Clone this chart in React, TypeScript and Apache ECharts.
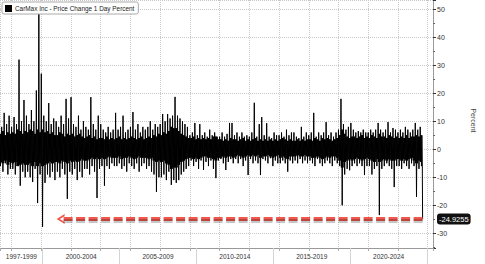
import React, { useEffect, useRef } from "react";
import * as echarts from "echarts";

const SERIES_NAME = "CarMax Inc - Price Change 1 Day Percent";
const START_YEAR = 1997 + 2 / 12; // first bimonthly period (Mar-Apr 1997)
const PERIOD = 1 / 6; // two months

// Bimonthly highest daily % change (spikes)
const PERIOD_HIGHS = [
  11, 8, 13, 9, 12, // 1997 (Mar-Dec)
  8, 11.5, 9, 32, 10, 17.6, // 1998
  12, 9, 14, 10, 21, 50, // 1999
  27, 12, 10, 16.5, 9, 11, // 2000
  10, 8, 12, 9, 18, 11, // 2001
  18.6, 9, 8, 12, 7, 10, // 2002
  8, 7, 18.6, 9, 7, 12, // 2003
  9, 7, 6, 8, 6, 7, // 2004
  13, 7, 8, 12, 6, 7, // 2005
  8, 13.3, 7, 9, 6, 8, // 2006
  7, 8, 10, 7, 9, 8, // 2007
  9, 12.6, 10, 12.6, 11, 12, // 2008
  18.7, 12, 11, 10, 9, 8, // 2009
  5, 6, 9.4, 5, 9, 5, // 2010
  6, 4.5, 7, 5, 6, 4.5, // 2011
  4.5, 6, 4.5, 5.5, 9.4, 9.4, // 2012
  5, 6, 4.5, 6, 4.5, 5, // 2013
  4.5, 6, 16.6, 4.5, 9, 11.5, // 2014
  5, 9.3, 4.5, 4, 6, 5, // 2015
  5, 6, 4.5, 7, 5, 6, // 2016
  6, 4.5, 4, 8, 4.5, 6, // 2017
  5, 6, 13, 4.5, 6, 5, // 2018
  6, 9.7, 5, 6, 4.5, 6, // 2019
  7, 18, 9, 7, 8, 9.4, // 2020
  7, 6, 6.5, 6, 7, 6, // 2021
  6, 7, 6, 7, 9.4, 7, // 2022
  6, 7, 9.7, 6, 7.6, 7, // 2023
  6, 7, 6, 8, 7, 6, // 2024
  7, 9.4, 7, 8, // 2025 (Jan-Aug)
];

// Bimonthly lowest daily % change (spikes)
const PERIOD_LOWS = [
  -6, -8, -5, -9, -7, // 1997
  -7, -9, -6, -13, -8, -10, // 1998
  -8, -10, -11.7, -7, -19.2, -9, // 1999
  -27.7, -12, -9, -10, -8, -11, // 2000
  -8, -10, -7, -9, -17.7, -8, // 2001
  -9, -7, -11, -8, -10, -7, // 2002
  -7, -9, -6, -8, -17.4, -7, // 2003
  -6, -13, -6, -7, -5, -6, // 2004
  -6, -5, -7, -6, -8, -5, // 2005
  -6, -7, -5, -8, -6, -5, // 2006
  -7, -6, -8, -9, -15.2, -10, // 2007
  -10, -9, -11, -8, -12.7, -11, // 2008
  -12, -11, -9, -8, -7, -6, // 2009
  -4, -6, -4.5, -7, -4, -7.4, // 2010
  -4.5, -6, -4, -7, -10.3, -4, // 2011
  -3.5, -5, -7.4, -4.5, -3.5, -5, // 2012
  -3.5, -5, -3.5, -6, -4, -9.2, // 2013
  -3.5, -5, -4, -5, -9.2, -3.5, // 2014
  -4, -5, -3.2, -6, -4, -5, // 2015
  -5, -4, -5, -8, -4, -5, // 2016
  -4, -5, -3.5, -5, -4, -5, // 2017
  -4, -5, -6, -3.5, -5, -6, // 2018
  -5, -4, -5, -6, -4, -5, // 2019
  -6, -20, -9, -7, -7.5, -6, // 2020
  -5, -6, -5, -6, -9.2, -6, // 2021
  -6, -9, -7, -6, -23.5, -7, // 2022
  -6, -5, -6, -7, -13.5, -6, // 2023
  -6, -7, -5, -6, -7, -5, // 2024
  -6, -17, -7, -6, // 2025
];

// Bimonthly typical (dense) upper daily move
const CORE_UP = [
  5.5, 6.5, 5, 6, 5.5, // 1997
  6, 5.5, 7, 6.5, 5.5, 6.5, // 1998
  6, 7, 6.5, 5.5, 7, 6, // 1999
  7, 6, 6.5, 5.5, 6, 5, // 2000
  5, 6, 5.5, 4.5, 5.5, 5, // 2001
  5.5, 4.5, 5, 5.5, 4.5, 4, // 2002
  4.5, 5, 4, 4.5, 3.5, 4, // 2003
  4, 3.5, 4.5, 3.5, 4, 3.5, // 2004
  4, 4.5, 3.5, 4, 3.5, 4, // 2005
  4.5, 4, 3.5, 4, 4.5, 3.5, // 2006
  4, 4.5, 4, 5, 4.5, 5.5, // 2007
  5, 6, 5.5, 6.5, 8, 7.5, // 2008
  7.5, 6.5, 5.5, 5, 4.5, 4, // 2009
  4, 4.5, 3.5, 4, 3.5, 4, // 2010
  3.5, 4, 3.5, 4.5, 4.5, 3.5, // 2011
  3.5, 3, 3.5, 3, 4, 3.5, // 2012
  3.5, 3, 3.5, 4, 3, 3.5, // 2013
  3, 3.5, 4, 3, 3.5, 3, // 2014
  3.5, 3, 3.5, 3, 3.5, 3, // 2015
  3.5, 4, 3.5, 3, 3.5, 3, // 2016
  3, 3.5, 3, 3.5, 3, 3.5, // 2017
  3.5, 3, 4, 3.5, 3, 4, // 2018
  3.5, 4, 3.5, 3, 3.5, 4, // 2019
  5, 7, 5.5, 4.5, 4, 4.5, // 2020
  4.5, 4, 4.5, 5, 4, 4.5, // 2021
  4, 5, 4.5, 4, 5.5, 4.5, // 2022
  4.5, 4, 5, 4.5, 4, 4.5, // 2023
  4, 4.5, 4, 5, 4, 4.5, // 2024
  4.5, 5, 4.5, 5, // 2025
];

// Bimonthly typical (dense) lower daily move
const CORE_DOWN = [
  -4.5, -5, -4, -5.5, -4.5, // 1997
  -5, -4.5, -6, -5.5, -5, -5.5, // 1998
  -5.5, -5, -6, -4.5, -6, -5, // 1999
  -6, -5.5, -5, -4.5, -5, -4.5, // 2000
  -4.5, -5, -4, -4.5, -5, -4, // 2001
  -4.5, -4, -4.5, -4, -3.5, -4, // 2002
  -4, -3.5, -3, -3.5, -3, -3.5, // 2003
  -3, -3.5, -3, -2.5, -3, -3, // 2004
  -3, -2.5, -3.5, -3, -3, -2.5, // 2005
  -3, -3.5, -3, -2.5, -3, -3, // 2006
  -3, -3.5, -3, -4, -4.5, -4, // 2007
  -4.5, -4, -5, -5.5, -7, -6.5, // 2008
  -6.5, -5.5, -4.5, -4, -3.5, -3, // 2009
  -3, -3.5, -3, -3.5, -3, -2.5, // 2010
  -2.5, -3, -3, -3.5, -4, -3, // 2011
  -3, -2.5, -3, -2.5, -2.5, -3, // 2012
  -2.5, -2, -2.5, -3, -2.5, -2, // 2013
  -2.5, -2, -2.5, -2, -3, -2.5, // 2014
  -2.5, -2, -2.5, -3, -2.5, -2, // 2015
  -3, -2.5, -3, -3.5, -2.5, -2.5, // 2016
  -2.5, -2, -2.5, -2.5, -2, -2.5, // 2017
  -2.5, -3, -3, -2.5, -3, -3.5, // 2018
  -3, -2.5, -3, -2.5, -2.5, -3, // 2019
  -4, -6.5, -4.5, -4, -3.5, -4, // 2020
  -3.5, -3, -3.5, -4, -3.5, -3, // 2021
  -3.5, -4, -4.5, -3.5, -4.5, -4, // 2022
  -3.5, -4, -3.5, -4, -4, -3.5, // 2023
  -3.5, -4, -3.5, -4, -3.5, -3, // 2024
  -4, -5, -4, -4.5, // 2025
];

const LAST_DATE = 2025.66;
const LAST_VALUE = -24.9255;
const ARROW_TIP_DATE = 2001.3;

const X_MIN = 1997.22;
const X_MAX = 2026.36;
const Y_MIN = -35.25;
const Y_MAX = 53.3;

const BAND_LABELS = ["1997-1999", "2000-2004", "2005-2009", "2010-2014", "2015-2019", "2020-2024"];
const BAND_CENTERS = [1998.61, 2002.5, 2007.5, 2012.5, 2017.5, 2022.5];
const BAND_EDGES = [2000, 2005, 2010, 2015, 2020, 2025];

const FONT = "'Liberation Sans', Arial, sans-serif";

export default function App() {
  const ref = useRef<HTMLDivElement>(null);

  useEffect(() => {
    if (!ref.current) return;
    const chart = echarts.init(ref.current, null, { renderer: "svg" });

    const data: number[][] = [];
    PERIOD_HIGHS.forEach((h, i) => {
      const t = START_YEAR + i * PERIOD;
      const cu = CORE_UP[i];
      const cd = CORE_DOWN[i];
      const seq = [h, cd, cu, PERIOD_LOWS[i], cu, cd];
      seq.forEach((v, k) => data.push([t + (PERIOD * k) / seq.length, v]));
    });
    data.push([LAST_DATE, LAST_VALUE]);

    const gridBox = { left: 0, right: 37, top: 0, bottom: 16 };
    const dashed = [9, 3.5];

    chart.setOption({
      animation: false,
      textStyle: { fontFamily: FONT },
      legend: {
        data: [SERIES_NAME],
        left: 2,
        top: 2,
        padding: [3, 4, 2, 3],
        borderColor: "#aaa",
        borderWidth: 1,
        borderRadius: 2,
        backgroundColor: "#fff",
        icon: "rect",
        itemWidth: 7,
        itemHeight: 7,
        itemGap: 2,
        textStyle: { fontSize: 6.4, color: "#222", fontFamily: FONT, padding: [0, 0, 0, -2] },
        z: 10,
      },
      grid: [{ ...gridBox }, { ...gridBox }],
      xAxis: [
        {
          type: "value",
          gridIndex: 0,
          min: X_MIN,
          max: X_MAX,
          minInterval: 2,
          maxInterval: 2,
          axisLine: { show: true, onZero: false, lineStyle: { color: "#999", width: 1 } },
          axisTick: { show: true, length: 3, lineStyle: { color: "#aaa" } },
          axisLabel: { show: false },
          splitLine: { show: true, lineStyle: { color: "#c8c8c8", type: "dotted", width: 1 } },
        },
        {
          type: "value",
          gridIndex: 1,
          min: X_MIN,
          max: X_MAX,
          axisLine: { show: false, onZero: false },
          axisTick: {
            show: true,
            length: 16,
            customValues: BAND_EDGES,
            lineStyle: { color: "#d4d4d4", width: 1 },
          },
          axisLabel: {
            show: true,
            customValues: BAND_CENTERS,
            fontSize: 6.5,
            color: "#333",
            margin: 5,
            fontFamily: FONT,
            formatter: (v: number) => {
              const i = BAND_CENTERS.findIndex((c) => Math.abs(c - v) < 0.01);
              return i >= 0 ? BAND_LABELS[i] : "";
            },
          },
          splitLine: { show: false },
        },
      ],
      yAxis: [
        {
          type: "value",
          gridIndex: 0,
          position: "right",
          min: Y_MIN,
          max: Y_MAX,
          minInterval: 10,
          maxInterval: 10,
          name: "Percent",
          nameLocation: "middle",
          nameRotate: -90,
          nameGap: 37,
          nameTextStyle: { fontSize: 7, color: "#444", fontFamily: FONT, padding: [0, 7, 0, 0] },
          axisLine: { show: true, onZero: false, lineStyle: { color: "#999", width: 1 } },
          axisTick: { show: true, length: 3, lineStyle: { color: "#333" } },
          minorTick: { show: true, splitNumber: 2, length: 2, lineStyle: { color: "#666" } },
          axisLabel: {
            show: true,
            fontSize: 7,
            color: "#333",
            margin: 4,
            showMinLabel: false,
            showMaxLabel: false,
            fontFamily: FONT,
          },
          splitLine: { show: true, lineStyle: { color: "#c8c8c8", type: "dotted", width: 1 } },
          axisPointer: {
            show: true,
            type: "line",
            value: LAST_VALUE,
            status: "show",
            triggerTooltip: false,
            lineStyle: { color: "rgba(0,0,0,0)", width: 0 },
            label: {
              show: true,
              backgroundColor: "#111",
              color: "#fff",
              fontSize: 7.5,
              fontFamily: FONT,
              padding: [2, 2, 1, 2],
              margin: 4,
              formatter: () => String(LAST_VALUE),
            },
          },
        },
        { type: "value", gridIndex: 1, show: false, min: Y_MIN, max: Y_MAX },
      ],
      series: [
        {
          name: "arrow-shadow",
          type: "line",
          xAxisIndex: 0,
          yAxisIndex: 0,
          data: [],
          z: 3,
          markLine: {
            silent: true,
            animation: false,
            symbol: ["none", "none"],
            label: { show: false },
            lineStyle: { color: "rgba(0,0,0,0.22)", width: 4, type: dashed },
            data: [
              [
                { coord: [LAST_DATE, LAST_VALUE - 0.7] },
                { coord: [ARROW_TIP_DATE + 0.1, LAST_VALUE - 0.7] },
              ],
            ],
          },
        },
        {
          name: SERIES_NAME,
          type: "line",
          xAxisIndex: 0,
          yAxisIndex: 0,
          data,
          showSymbol: false,
          symbol: "none",
          itemStyle: { color: "#000" },
          lineStyle: { color: "#000", width: 1 },
          z: 2,
          markLine: {
            silent: true,
            animation: false,
            z: 4,
            symbol: ["none", "path://M0,10 L6,0 L12,10 L9.5,10 L6,4 L2.5,10 Z"],
            symbolSize: [10, 8],
            label: { show: false },
            lineStyle: { color: "#f0584e", width: 4, type: dashed },
            data: [
              [
                { coord: [LAST_DATE, LAST_VALUE] },
                { coord: [ARROW_TIP_DATE, LAST_VALUE] },
              ],
            ],
          },
        },
      ],
    });

    return () => chart.dispose();
  }, []);

  return (
    <div
      ref={ref}
      style={{ position: "fixed", left: 0, top: 0, width: 485, height: 264, background: "#fff" }}
    />
  );
}
